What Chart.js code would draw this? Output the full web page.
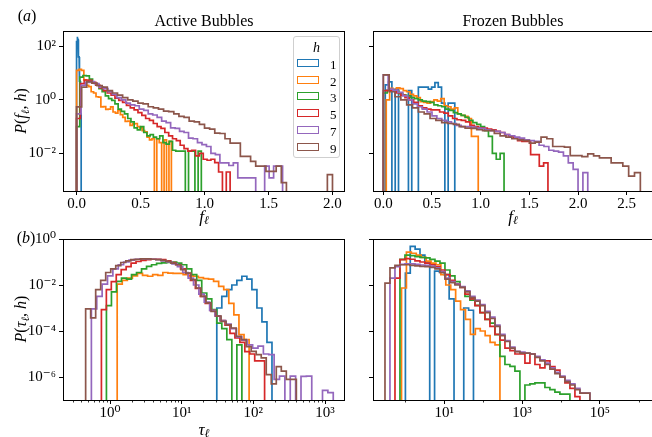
<!DOCTYPE html>
<html><head><meta charset="utf-8">
<script src="https://cdn.jsdelivr.net/npm/chart.js@4.4.1/dist/chart.umd.min.js"></script>
<style>
html,body{margin:0;padding:0;background:#fff;}
#wrap{position:relative;width:652px;height:437px;overflow:hidden;font-family:"Liberation Serif","DejaVu Serif",serif;color:#000;background:#fff;}
canvas{position:absolute;left:0;top:0;}
.t{position:absolute;white-space:nowrap;transform:translate(-50%,-50%);line-height:1;z-index:5;font-weight:400;}
.rot{transform:translate(-50%,-50%) rotate(-90deg);}
sub{font-size:70%;vertical-align:-0.25em;line-height:0;}
#legend{position:absolute;left:293px;top:36px;width:45px;height:120px;border:1px solid #cfcfcf;border-radius:3px;background:rgba(255,255,255,0.85);z-index:6;font-size:13px;}
#legend .ttl{position:absolute;left:0;width:45px;top:3px;text-align:center;font-style:italic;font-size:14px;}
#legend .row{position:absolute;left:3px;height:12px;width:42px;}
#legend .sw{position:absolute;left:0;top:1px;width:20px;height:6px;border:1.7px solid;}
#legend .lb{position:absolute;left:33px;top:-1px;}
</style></head>
<body><div id="wrap">
<canvas id="cA" width="660" height="437"></canvas>
<canvas id="cB" width="660" height="437"></canvas>
<canvas id="cC" width="660" height="437"></canvas>
<canvas id="cD" width="660" height="437"></canvas>
<div class="t" style="left:27px;top:16px;font-size:16px">(<i>a</i>)</div>
<div class="t" style="left:26px;top:238px;font-size:16px">(<i>b</i>)</div>
<div class="t" style="left:204px;top:21px;font-size:16px">Active Bubbles</div>
<div class="t" style="left:513px;top:21px;font-size:16px">Frozen Bubbles</div>
<div class="t" style="left:204px;top:216px;font-size:17px"><i>f</i><sub><i>ℓ</i></sub></div>
<div class="t" style="left:513px;top:216px;font-size:17px"><i>f</i><sub><i>ℓ</i></sub></div>
<div class="t" style="left:204px;top:429px;font-size:17px"><i>τ</i><sub><i>ℓ</i></sub></div>
<div class="t rot" style="left:21px;top:111px;font-size:16px"><i>P</i>(<i>f</i><sub><i>ℓ</i></sub>, <i>h</i>)</div>
<div class="t rot" style="left:21px;top:319px;font-size:16px"><i>P</i>(<i>τ</i><sub><i>ℓ</i></sub>, <i>h</i>)</div>
<div id="legend"><div class="ttl">h</div></div>
</div>
<script>
// ---------------- DATA ----------------
const hLabels = ['1', '2', '3', '5', '7', '9'];
const hColors = ['#1f77b4', '#ff7f0e', '#2ca02c', '#d62728', '#9467bd', '#8c564b'];

// (a) Active bubbles, P(f_l,h): bins = [first edge, bin width]
const actF_bins = [[0, 0.004], [0, 0.019], [0, 0.025], [0, 0.03], [0, 0.035], [0, 0.04]];
const actF_h1 = [150, 230, 180, 90, 40, 15, 5, 1.5, 0.3];
const actF_h2 = [12.6, 13.8, 12.6, 5.6, 3.5, 3.1, 2.0, 1.8, 1.3, 1.26, 0.54, 0.56, 0.44, 0.45, 0.54, 0.35, 0.32, 0.4, 0.28, 0.22, 0.155, 0.16, 0.11, 0.126, 0.13, 0.1, 0.089, 0.071, 0.063, 0.04, 0.032, 0.035, 0, 0.035, 0.025, 0, 0.032, 0, 0.028];
const actF_h3 = [0.1, 7.0, 8.1, 7.9, 5.9, 4.2, 3.5, 2.6, 2.0, 1.4, 1.1, 0.95, 0.7, 0.45, 0.37, 0.3, 0.2, 0.15, 0.09, 0.075, 0.1, 0.06, 0.045, 0.05, 0.04, 0.035, 0.045, 0.025, 0.022, 0.028, 0.013, 0.012, 0.012, 0.012, 0, 0.012, 0.012, 0, 0.012];
const actF_h5 = [0.2, 4.0, 5.5, 5.3, 4.5, 3.6, 2.8, 2.2, 1.8, 1.5, 1.15, 0.95, 0.8, 0.62, 0.5, 0.42, 0.33, 0.26, 0.2, 0.17, 0.13, 0.1, 0.085, 0.06, 0.045, 0.035, 0.03, 0.02, 0.015, 0.012, 0.013, 0.008, 0.01, 0.006, 0.0055, 0.006, 0.0045, 0.002, 0, 0.002];
const actF_h7 = [0.3, 3.5, 4.5, 4.8, 4.0, 3.0, 2.6, 2.0, 1.6, 1.2, 1.0, 0.75, 0.65, 0.6, 0.45, 0.4, 0.3, 0.27, 0.22, 0.16, 0.14, 0.09, 0.085, 0.066, 0.06, 0.037, 0.035, 0.025, 0.021, 0.018, 0.01, 0.009, 0.0044, 0.0044, 0.0035, 0.0044, 0.0012, 0.0012, 0.0012, 0.0012, 0, 0, 0.0033, 0.0012, 0.0033, 0.0033];
const actF_h9 = [0.54, 3.0, 4.8, 4.2, 3.4, 3.0, 2.2, 1.8, 1.5, 1.2, 1.0, 0.9, 0.75, 0.7, 0.55, 0.5, 0.45, 0.38, 0.36, 0.3, 0.24, 0.22, 0.16, 0.15, 0.12, 0.088, 0.08, 0.057, 0.055, 0.035, 0.024, 0.024, 0.0077, 0.0077, 0.005, 0.0033, 0.0033, 0.0021, 0.0021, 0.0033, 0.0008, 0, 0, 0, 0, 0, 0, 0, 0, 0.0016];

// (a) Frozen bubbles, P(f_l,h)
const frzF_bins = [[0.02, 0.034], [0.03, 0.035], [0, 0.04], [0, 0.0445], [0, 0.05], [0, 0.06]];
const frzF_h1 = [3.6, 4.7, 0, 2.5, 0, 0, 0, 2.2, 0, 0, 3.0, 3.0, 3.0, 2.5, 3.0, 4.4, 3.0, 0.75, 0, 0.75, 0.75];
const frzF_h2 = [1.0, 2.7, 2.4, 2.8, 2.6, 2.2, 2.0, 1.6, 1.4, 1.2, 0.85, 0.8, 0.75, 0.85, 1.0, 0.9, 1.1, 0.6, 0.55, 0.45, 0.5, 0.3, 0.26, 0.24, 0.2, 0.043, 0.043];
const frzF_h3 = [1.8, 2.3, 2.3, 2.1, 1.7, 1.5, 1.4, 1.2, 1.1, 1.0, 0.9, 0.85, 0.8, 0.65, 0.6, 0.55, 0.45, 0.4, 0.33, 0.3, 0.26, 0.22, 0.17, 0.14, 0.12, 0.1, 0.07, 0.043, 0.01, 0.006, 0.01];
const frzF_h5 = [2.2, 2.3, 2.2, 1.8, 1.5, 1.2, 1.0, 0.8, 0.6, 0.5, 0.45, 0.42, 0.42, 0.35, 0.32, 0.25, 0.2, 0.18, 0.17, 0.15, 0.11, 0.1, 0.09, 0.088, 0.08, 0.075, 0.066, 0.06, 0.05, 0.045, 0.037, 0.03, 0.028, 0.028, 0.009, 0.009, 0.0033, 0.0044];
const frzF_h7 = [8.5, 2.5, 2.3, 1.9, 1.4, 1.0, 0.7, 0.55, 0.45, 0.35, 0.25, 0.2, 0.17, 0.15, 0.13, 0.11, 0.1, 0.1, 0.095, 0.088, 0.085, 0.076, 0.07, 0.066, 0.06, 0.05, 0.045, 0.04, 0.037, 0.032, 0.03, 0.028, 0.02, 0.018, 0.013, 0.012, 0.011, 0.008, 0.0044, 0.0025, 0, 0.0019];
const frzF_h9 = [8.5, 2.0, 1.3, 1.0, 0.65, 0.5, 0.35, 0.3, 0.2, 0.17, 0.14, 0.13, 0.12, 0.1, 0.088, 0.085, 0.076, 0.07, 0.07, 0.055, 0.045, 0.04, 0.035, 0.032, 0.03, 0.024, 0.026, 0.04, 0.035, 0.018, 0.018, 0.017, 0.0082, 0.0082, 0.0075, 0.0095, 0.008, 0.0067, 0.0067, 0.0044, 0.0044, 0.0033, 0.0014, 0.0019];

// (b) Active bubbles, P(tau_l,h): bins = [log10 of first edge, bin width in decades]
const actT_bins = [[1.49, 0.07], [0.1, 0.0708], [-0.05, 0.07], [-0.12, 0.069], [-0.26, 0.075], [-0.34, 0.07]];
const actT_h1 = [1.0e-3, 3.2e-3, 6.3e-3, 1.0e-2, 1.6e-2, 2.4e-2, 1.8e-2, 6.3e-3, 1.0e-3, 2.5e-4, 3.2e-5];
const actT_h2 = [1.1e-2, 1.6e-2, 2.0e-2, 2.5e-2, 3.2e-2, 2.6e-2, 2.4e-2, 2.8e-2, 2.6e-2, 3.5e-2, 3.3e-2, 3.2e-2, 3.2e-2, 2.8e-2, 2.5e-2, 2.4e-2, 2.1e-2, 1.9e-2, 1.8e-2, 1.45e-2, 8.7e-3, 6.3e-3, 1.6e-3, 5.0e-4, 6.9e-5, 4.2e-5];
const actT_h3 = [1.26e-3, 5.0e-3, 1.45e-2, 2.0e-2, 1.8e-2, 2.8e-2, 3.5e-2, 5.0e-2, 6.5e-2, 7.6e-2, 8.7e-2, 9.1e-2, 9.5e-2, 0.1, 8.9e-2, 7.6e-2, 5.0e-2, 2.8e-2, 1.6e-2, 4.5e-3, 2.5e-3, 8.5e-4, 2.2e-4, 1.26e-4, 4.2e-5, 0, 2.5e-5];
const actT_h5 = [8.5e-4, 6.3e-3, 1.4e-2, 2.8e-2, 4.7e-2, 6.3e-2, 8.9e-2, 0.105, 0.117, 0.126, 0.132, 0.132, 0.126, 0.112, 0.095, 0.076, 0.05, 0.032, 0.016, 7.1e-3, 3.2e-3, 1.6e-3, 7.9e-4, 4.5e-4, 2.8e-4, 1.8e-4, 7.9e-5, 5.0e-5, 3.2e-5, 1.26e-5, 1.0e-5, 5e-6, 5e-6];
const actT_h7 = [9.1e-4, 3.2e-3, 1.1e-2, 2.5e-2, 5.0e-2, 7.6e-2, 0.1, 0.12, 0.132, 0.138, 0.135, 0.132, 0.126, 0.112, 0.1, 0.083, 0.063, 0.035, 0.02, 0.01, 4.0e-3, 1.8e-3, 7.9e-4, 4.5e-4, 2.8e-4, 2.0e-4, 1.26e-4, 5.6e-5, 4.0e-5, 2.5e-5, 1.8e-5, 2.2e-5, 1.0e-5, 9.3e-6, 7.9e-7, 1.1e-6, 0, 1.1e-6, 0, 1.07e-6, 1.1e-6, 0, 0, 2.6e-7, 2.1e-7];
const actT_h9 = [9.1e-4, 3.7e-4, 6.3e-3, 1.6e-2, 3.5e-2, 5.0e-2, 6.9e-2, 9.5e-2, 0.112, 0.126, 0.13, 0.138, 0.138, 0.132, 0.126, 0.117, 0.107, 0.089, 0.076, 0.047, 0.033, 0.017, 7.4e-3, 3.2e-3, 1.66e-3, 7.1e-4, 4.4e-4, 2.6e-4, 1.86e-4, 1.35e-4, 5.9e-5, 4.2e-5, 2.1e-5, 1.3e-5, 9.3e-6, 6.8e-6, 1.26e-6, 5e-7, 2.8e-6, 1.8e-6, 7.9e-7, 7.9e-7];

// (b) Frozen bubbles, P(tau_l,h)
const frzT_bins = [[0.0, 0.125], [-0.1, 0.1265], [-0.14, 0.1285], [-0.268, 0.1285], [-0.397, 0.1285], [-0.525, 0.1285]];
const frzT_h1 = [3.3e-2, 0.48, 0.36, 0.2, 0.09, 0, 0.04, 0.035, 0.028, 2.5e-3, 0, 0, 1.0e-3, 8e-4];
const frzT_h2 = [7.4e-3, 0.27, 0.24, 0.2, 0.16, 0.11, 0.089, 0.076, 0.028, 0.01, 6.3e-3, 2.0e-3, 8.5e-4, 3.2e-4, 7.1e-5, 1.26e-4, 1.0e-4, 6.3e-5, 3.2e-5, 2.5e-5];
const frzT_h3 = [0.13, 0.2, 0.19, 0.17, 0.16, 0.15, 0.13, 0.11, 0.09, 0.045, 0.025, 0.014, 8e-3, 3.2e-3, 2.2e-3, 1.3e-3, 6.3e-4, 3.2e-4, 2.2e-4, 6.9e-5, 7.9e-6, 3.5e-6, 2.9e-6, 1.8e-6, 0, 4.5e-7, 5.0e-7, 5.6e-7, 5.6e-7, 3.5e-7, 2.8e-7, 2.2e-7, 1.8e-7, 1.8e-7];
const frzT_h5 = [2.0e-2, 0.126, 0.141, 0.132, 0.112, 0.1, 0.089, 0.076, 0.063, 0.045, 0.028, 0.016, 0.0112, 7.9e-3, 4.0e-3, 2.5e-3, 1.26e-3, 6.3e-4, 3.2e-4, 1.6e-4, 7.1e-5, 4.0e-5, 1.8e-5, 1.4e-5, 1.0e-5, 1.0e-5, 4.0e-6, 1.0e-5, 3.5e-6, 2.5e-6, 5.0e-6, 2.8e-6, 2.0e-6, 1.0e-6, 5.6e-7, 3.2e-7, 1.4e-7];
const frzT_h7 = [2.0e-2, 6.3e-2, 7.9e-2, 8.3e-2, 8.3e-2, 7.9e-2, 7.4e-2, 7.1e-2, 6.6e-2, 5.6e-2, 3.8e-2, 2.0e-2, 1.4e-2, 1.1e-2, 8.5e-3, 5.6e-3, 3.2e-3, 2.2e-3, 1.4e-3, 7.1e-4, 4.0e-4, 1.8e-4, 7.1e-5, 3.8e-5, 2.0e-5, 1.3e-5, 1.2e-5, 1.1e-5, 1.0e-5, 7.9e-6, 5.6e-6, 4.0e-6, 2.5e-6, 1.6e-6, 1.1e-6, 7.1e-7, 5.0e-7, 3.2e-7, 2.0e-7, 2.0e-7];
const frzT_h9 = [1.2e-2, 5.5e-2, 7.1e-2, 7.6e-2, 7.6e-2, 7.2e-2, 6.8e-2, 6.5e-2, 6.3e-2, 5.8e-2, 5.0e-2, 3.5e-2, 1.8e-2, 1.26e-2, 1.0e-2, 7.9e-3, 5.0e-3, 2.8e-3, 2.0e-3, 1.26e-3, 6.3e-4, 3.5e-4, 1.6e-4, 6.3e-5, 3.5e-5, 1.8e-5, 1.26e-5, 1.1e-5, 1.1e-5, 1.0e-5, 7.1e-6, 5.0e-6, 3.5e-6, 2.2e-6, 1.4e-6, 1.0e-6, 6.3e-7, 4.5e-7, 2.8e-7, 2.0e-7, 2.0e-7];

// Tick labels / positions
const fTicksActive = [0, 0.5, 1.0, 1.5, 2.0];
const fTicksFrozen = [0, 0.5, 1.0, 1.5, 2.0, 2.5];
const pTicksF = [1e-2, 1, 1e2];
const pTicksT = [1e-6, 1e-4, 1e-2, 1];
const tauTicksActive = [1, 10, 100, 1000];
const tauTicksFrozen = [10, 1000, 100000];
const tauMinorActive = [0.3, 0.4, 0.5, 0.6, 0.7, 0.8, 0.9, 2, 3, 4, 5, 6, 7, 8, 9, 20, 30, 40, 50, 60, 70, 80, 90, 200, 300, 400, 500, 600, 700, 800, 900, 2000];
const tauMinorFrozen = [1, 100, 10000, 1000000];

// ---------------- RENDERING ----------------
const FONT = '"Liberation Serif","DejaVu Serif",serif';
const SUP = {'0':'⁰','1':'¹','2':'²','3':'³','4':'⁴','5':'⁵','6':'⁶','7':'⁷','8':'⁸','9':'⁹','-':'⁻'};
function powLabel(v) { const e = String(Math.round(Math.log10(v))); return '10' + e.split('').map(c => SUP[c]).join(''); }

function stepPath(bins, vals, isLog, floor) {
  const edge = i => isLog ? Math.pow(10, bins[0] + bins[1] * i) : bins[0] + bins[1] * i;
  const pts = [{x: edge(0), y: floor}];
  vals.forEach((v, i) => {
    const y = v > 0 ? v : floor;
    pts.push({x: edge(i), y: y}, {x: edge(i + 1), y: y});
  });
  pts.push({x: edge(vals.length), y: floor});
  return pts;
}

const framePlugin = {
  id: 'frame',
  afterDraw(chart) {
    const {ctx, chartArea: a} = chart;
    ctx.save(); ctx.strokeStyle = '#000'; ctx.lineWidth = 1;
    ctx.strokeRect(Math.round(a.left) + 0.5, Math.round(a.top) + 0.5, Math.round(a.right - a.left), Math.round(a.bottom - a.top));
    ctx.restore();
  }
};
const minorPlugin = {
  id: 'minorTicks',
  afterDraw(chart, args, opts) {
    const list = opts.values || [];
    const {ctx, chartArea: a} = chart; const sx = chart.scales.x;
    ctx.save(); ctx.strokeStyle = '#000'; ctx.lineWidth = 0.8;
    list.forEach(v => {
      const px = sx.getPixelForValue(v);
      if (px < a.left || px > a.right) return;
      const x = Math.round(px) + 0.5;
      ctx.beginPath(); ctx.moveTo(x, a.bottom); ctx.lineTo(x, a.bottom + 2.5); ctx.stroke();
    });
    ctx.restore();
  }
};

function axisCommon(ticksArr, fmt) {
  return {
    afterBuildTicks: s => { s.ticks = ticksArr.map(v => ({value: v})); },
    ticks: {callback: fmt, color: '#000', font: {family: FONT, size: 15}, maxRotation: 0, minRotation: 0, autoSkip: false, padding: 0},
    grid: {display: true, drawOnChartArea: false, drawTicks: true, tickLength: 4, tickColor: '#000', tickWidth: 1},
    border: {display: false}
  };
}

function makePanel(id, p) {
  const datasets = p.series.map((vals, k) => ({
    label: 'h = ' + hLabels[k],
    data: stepPath(p.bins[k], vals, p.xLog, p.floor),
    showLine: true, fill: false, tension: 0,
    borderColor: hColors[k], borderWidth: 1.7,
    pointRadius: 0, pointHoverRadius: 0,
    order: p.series.length - 1 - k
  }));
  const xs = Object.assign(axisCommon(p.xTicks, v => p.xLog ? powLabel(v) : Number(v).toFixed(1)), {
    type: p.xLog ? 'logarithmic' : 'linear', min: p.xMin, max: p.xMax,
    afterFit: s => { s.height = 30; }
  });
  const ys = Object.assign(axisCommon(p.yTicks, v => p.yLabels ? powLabel(v) : ''), {
    type: 'logarithmic', min: p.yMin, max: p.yMax,
    afterFit: s => { s.width = p.yWidth; }
  });
  ys.ticks.padding = 3;
  return new Chart(document.getElementById(id), {
    type: 'scatter',
    data: {datasets},
    options: {
      responsive: false, animation: false, devicePixelRatio: 1, events: [],
      layout: {padding: p.pad},
      plugins: {legend: {display: false}, tooltip: {enabled: false}, minorTicks: {values: p.minor || []}},
      scales: {x: xs, y: ys}
    },
    plugins: [framePlugin, minorPlugin]
  });
}

const yTopMin = Math.pow(10, -3.409), yTopMax = Math.pow(10, 2.572);
const yBotMin = Math.pow(10, -7.0), yBotMax = 1;

makePanel('cA', {
  series: [actF_h1, actF_h2, actF_h3, actF_h5, actF_h7, actF_h9], bins: actF_bins,
  xLog: false, xMin: -0.106, xMax: 2.09, xTicks: fTicksActive,
  yMin: yTopMin, yMax: yTopMax, yTicks: pTicksF, yLabels: true, yWidth: 63, floor: 1e-4,
  pad: {left: 0, top: 31, right: 660 - 344, bottom: 437 - 191 - 30}
});
makePanel('cB', {
  series: [frzF_h1, frzF_h2, frzF_h3, frzF_h5, frzF_h7, frzF_h9], bins: frzF_bins,
  xLog: false, xMin: -0.106, xMax: 2.77, xTicks: fTicksFrozen,
  yMin: yTopMin, yMax: yTopMax, yTicks: pTicksF, yLabels: false, yWidth: 10, floor: 1e-4,
  pad: {left: 363, top: 31, right: 660 - 653, bottom: 437 - 191 - 30}
});
makePanel('cC', {
  series: [actT_h1, actT_h2, actT_h3, actT_h5, actT_h7, actT_h9], bins: actT_bins,
  xLog: true, xMin: Math.pow(10, -0.656), xMax: Math.pow(10, 3.265), xTicks: tauTicksActive, minor: tauMinorActive,
  yMin: yBotMin, yMax: yBotMax, yTicks: pTicksT, yLabels: true, yWidth: 63, floor: 1e-8,
  pad: {left: 0, top: 239, right: 660 - 344, bottom: 437 - 400 - 30}
});
makePanel('cD', {
  series: [frzT_h1, frzT_h2, frzT_h3, frzT_h5, frzT_h7, frzT_h9], bins: frzT_bins,
  xLog: true, xMin: Math.pow(10, -0.833), xMax: Math.pow(10, 6.365), xTicks: tauTicksFrozen, minor: tauMinorFrozen,
  yMin: yBotMin, yMax: yBotMax, yTicks: pTicksT, yLabels: false, yWidth: 10, floor: 1e-8,
  pad: {left: 363, top: 239, right: 660 - 653, bottom: 437 - 400 - 30}
});

// legend (built from the label/colour arrays)
const leg = document.getElementById('legend');
hLabels.forEach((lab, k) => {
  const row = document.createElement('div');
  row.className = 'row';
  row.style.top = (21 + k * 16.7) + 'px';
  row.innerHTML = '<div class="sw" style="border-color:' + hColors[k] + '"></div><div class="lb">' + lab + '</div>';
  leg.appendChild(row);
});
</script>
</body></html>
